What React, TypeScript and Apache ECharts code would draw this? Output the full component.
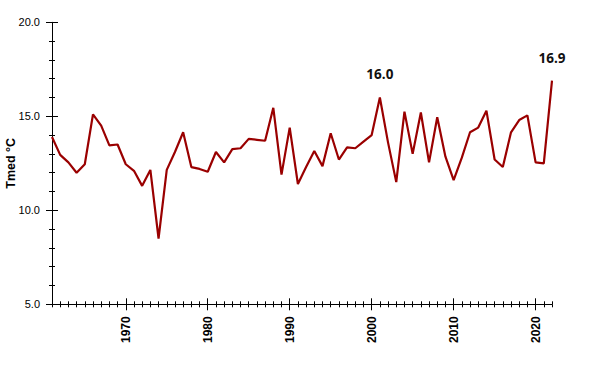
import React, { useEffect, useRef } from "react";
import * as echarts from "echarts";

const years: string[] = [
  "1961","1962","1963","1964","1965","1966","1967","1968","1969","1970",
  "1971","1972","1973","1974","1975","1976","1977","1978","1979","1980",
  "1981","1982","1983","1984","1985","1986","1987","1988","1989","1990",
  "1991","1992","1993","1994","1995","1996","1997","1998","1999","2000",
  "2001","2002","2003","2004","2005","2006","2007","2008","2009","2010",
  "2011","2012","2013","2014","2015","2016","2017","2018","2019","2020",
  "2021","2022",
];

const tmed: number[] = [
  13.9, 12.95, 12.55, 12.0, 12.45, 15.1, 14.5, 13.45, 13.5, 12.45,
  12.1, 11.3, 12.15, 8.5, 12.15, 13.1, 14.15, 12.3, 12.2, 12.05,
  13.1, 12.55, 13.25, 13.3, 13.8, 13.75, 13.7, 15.45, 11.9, 14.4,
  11.4, 12.3, 13.15, 12.35, 14.1, 12.7, 13.35, 13.3, 13.65, 14.0,
  16.0, 13.6, 11.5, 15.25, 13.0, 15.2, 12.55, 14.95, 12.85, 11.6,
  12.8, 14.15, 14.4, 15.3, 12.7, 12.3, 14.15, 14.8, 15.05, 12.55,
  12.5, 16.9,
];

const labelledYears: string[] = ["2001", "2022"];
const yTicks = { min: 5, max: 20, step: 5 };
const axisName = "Tmed °C";

const isDecade = (_i: number, v: string) => Number(v) % 10 === 0;

export default function App() {
  const ref = useRef<HTMLDivElement>(null);
  useEffect(() => {
    if (!ref.current) return;
    const chart = echarts.init(ref.current, undefined, { renderer: "svg" });
    const lineCol = "#000";
    const font = "Liberation Sans";
    const baseX = {
      type: "category" as const,
      data: years,
      boundaryGap: false,
      position: "bottom" as const,
      axisLine: { show: false, lineStyle: { color: lineCol } },
      splitLine: { show: false },
      axisLabel: { show: false },
    };
    const baseY = {
      type: "value" as const,
      min: yTicks.min,
      max: yTicks.max,
      interval: yTicks.step,
      position: "left" as const,
      offset: 0,
      splitLine: { show: false },
      axisLine: { show: false, lineStyle: { color: lineCol } },
      minorTick: { show: true, splitNumber: 5, length: 3, lineStyle: { color: lineCol } },
      minorSplitLine: { show: false },
    };
    chart.setOption({
      animation: false,
      backgroundColor: "#fff",
      grid: {
        left: 52,
        right: 48,
        top: 22.3,
        bottom: 66.7,
        containLabel: false,
        outerBoundsMode: "none",
      },
      xAxis: [
        {
          ...baseX,
          axisLine: { show: true, lineStyle: { color: lineCol, width: 1 } },
          axisTick: { show: true, interval: 0, length: 3, inside: false, lineStyle: { color: lineCol } },
        },
        {
          ...baseX,
          axisTick: { show: true, interval: 0, length: 3, inside: true, lineStyle: { color: lineCol } },
        },
        {
          ...baseX,
          axisTick: { show: true, interval: isDecade, length: 6, inside: false, lineStyle: { color: lineCol } },
          axisLabel: {
            show: true,
            interval: isDecade,
            rotate: 90,
            margin: 12,
            fontFamily: font,
            fontSize: 12,
            fontWeight: "bold",
            color: "#000",
          },
        },
        {
          ...baseX,
          axisTick: { show: true, interval: isDecade, length: 6, inside: true, lineStyle: { color: lineCol } },
        },
      ],
      yAxis: [
        {
          ...baseY,
          axisLine: { show: true, lineStyle: { color: lineCol, width: 1 } },
          axisTick: { show: true, length: 6, inside: false, lineStyle: { color: lineCol } },
          axisLabel: {
            show: true,
            margin: 12,
            fontFamily: font,
            fontSize: 11,
            color: "#000",
            formatter: (v: number) => v.toFixed(1),
          },
          name: axisName,
          nameLocation: "middle",
          nameGap: 35,
          nameMoveOverlap: false,
          nameTextStyle: { fontFamily: font, fontSize: 12.5, fontWeight: "bold", color: "#000" },
        },
        {
          ...baseY,
          axisTick: { show: true, length: 6, inside: true, lineStyle: { color: lineCol } },
          axisLabel: { show: false },
        },
      ],
      series: [
        {
          type: "line",
          xAxisIndex: 0,
          yAxisIndex: 0,
          showSymbol: true,
          symbol: "circle",
          symbolSize: 0.1,
          lineStyle: { color: "#9a0000", width: 2.2 },
          itemStyle: { color: "rgba(0,0,0,0)", borderWidth: 0 },
          labelLayout: { hideOverlap: false },
          data: tmed.map((v, i) =>
            labelledYears.includes(years[i])
              ? {
                  value: v,
                  label: {
                    show: true,
                    position: "top",
                    distance: 16,
                    formatter: (p: any) => Number(p.value).toFixed(1),
                    fontFamily: "Open Sans",
                    fontSize: 13.5,
                    fontWeight: "bold",
                    color: "#111",
                  },
                }
              : v
          ),
        },
      ],
    });
    return () => chart.dispose();
  }, []);
  return <div ref={ref} style={{ width: 600, height: 371, position: "absolute", left: 0, top: 0 }} />;
}
